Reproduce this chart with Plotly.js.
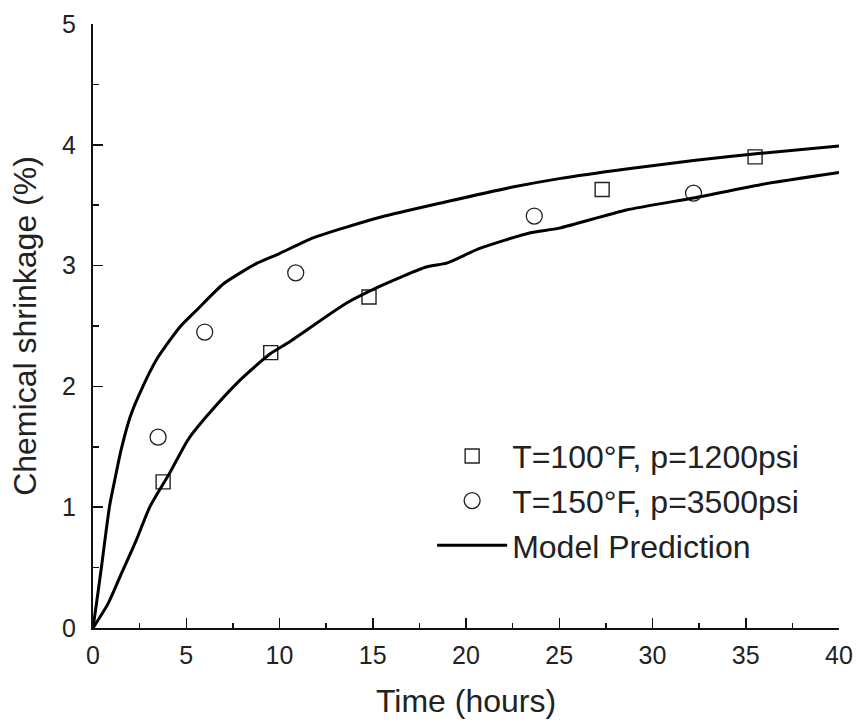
<!DOCTYPE html>
<html>
<head>
<meta charset="utf-8">
<script src="https://cdn.plot.ly/plotly-3.0.1.min.js"></script>
<style>html,body{margin:0;padding:0;background:#fff;}#chart{width:858px;height:724px;}</style>
</head>
<body>
<div id="chart"></div>
<script>
// Measured points
const sqX = [3.76, 9.53, 14.8, 27.3, 35.5];
const sqY = [1.21, 2.28, 2.74, 3.63, 3.90];
const ciX = [3.49, 5.99, 10.87, 23.66, 32.2];
const ciY = [1.58, 2.45, 2.94, 3.41, 3.60];

// Model prediction curves
const upX = [0, 0.21, 0.45, 0.7, 0.9, 1.2, 1.5, 2.0, 2.5, 3.4, 4.65, 5.55, 7.0, 8.8, 10.0, 11.8, 15.4, 19.0, 22.5, 25.0, 28.6, 32.2, 35.8, 40];
const upY = [0, 0.23, 0.5, 0.8, 1.02, 1.25, 1.47, 1.75, 1.94, 2.22, 2.49, 2.63, 2.85, 3.02, 3.1, 3.23, 3.40, 3.53, 3.65, 3.72, 3.80, 3.87, 3.93, 3.99];
const loX = [0, 0.8, 1.52, 2.33, 3.04, 4.1, 5.1, 6.08, 7.87, 9.5, 10.55, 13.6, 15.4, 17.9, 18.96, 20.7, 23.4, 25.0, 28.6, 32.2, 35.8, 40];
const loY = [0, 0.2, 0.45, 0.73, 1.0, 1.28, 1.56, 1.75, 2.05, 2.27, 2.37, 2.69, 2.83, 2.99, 3.02, 3.14, 3.27, 3.31, 3.46, 3.56, 3.67, 3.77];

const names = ["T=100°F, p=1200psi", "T=150°F, p=3500psi", "Model Prediction"];
const xTitle = "Time (hours)";
const yTitle = "Chemical shrinkage (%)";

const FONT = "Liberation Sans, Arial, sans-serif";
const TXT = '#222';

const traces = [
  {x: sqX, y: sqY, mode: 'markers', type: 'scatter', name: names[0],
   marker: {symbol: 'square-open', size: 14, color: '#222', line: {width: 1.4, color: '#222'}}},
  {x: ciX, y: ciY, mode: 'markers', type: 'scatter', name: names[1],
   marker: {symbol: 'circle-open', size: 16, color: '#222', line: {width: 1.3, color: '#222'}}},
  {x: upX, y: upY, mode: 'lines', type: 'scatter', name: names[2],
   line: {color: '#000', width: 3, shape: 'spline', smoothing: 0.6}},
  {x: loX, y: loY, mode: 'lines', type: 'scatter', name: names[2], showlegend: false,
   line: {color: '#000', width: 3, shape: 'spline', smoothing: 0.6}}
];

const layout = {
  width: 858, height: 724,
  margin: {l: 93, r: 19, t: 24, b: 96},
  paper_bgcolor: '#fff', plot_bgcolor: '#fff',
  font: {family: FONT, color: TXT, size: 25},
  showlegend: true,
  legend: {x: 0.4546, y: 0.33, xanchor: 'left', yanchor: 'top',
           font: {family: FONT, size: 32, color: TXT},
           bgcolor: 'rgba(0,0,0,0)', itemwidth: 70, tracegroupgap: 0},
  xaxis: {
    range: [0, 40], dtick: 5, tick0: 0,
    showgrid: false, zeroline: false,
    showline: true, linecolor: '#111', linewidth: 2,
    ticks: 'inside', ticklen: 10, tickwidth: 1.5, tickcolor: '#111',
    minor: {ticks: 'inside', ticklen: 5, dtick: 2.5, tick0: 0, tickwidth: 1.5, tickcolor: '#111', showgrid: false},
    tickfont: {family: FONT, size: 25, color: TXT},
    ticklabelstandoff: 4,
    title: {text: xTitle, font: {family: FONT, size: 32, color: TXT}, standoff: 22}
  },
  yaxis: {
    range: [0, 5], dtick: 1, tick0: 0,
    showgrid: false, zeroline: false,
    showline: true, linecolor: '#111', linewidth: 2,
    ticks: 'inside', ticklen: 10, tickwidth: 1.5, tickcolor: '#111',
    minor: {ticks: 'inside', ticklen: 6, dtick: 0.5, tick0: 0, tickwidth: 1.5, tickcolor: '#111', showgrid: false},
    tickfont: {family: FONT, size: 25, color: TXT},
    ticklabelstandoff: 10,
    title: {text: yTitle, font: {family: FONT, size: 32, color: TXT}, standoff: 16}
  }
};

Plotly.newPlot('chart', traces, layout, {displayModeBar: false, staticPlot: true});
</script>
</body>
</html>
